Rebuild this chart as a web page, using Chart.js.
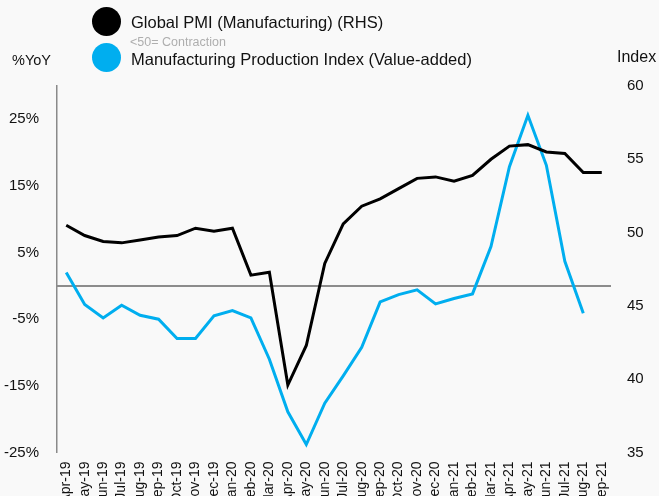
<!DOCTYPE html>
<html><head><meta charset="utf-8">
<script src="https://cdn.jsdelivr.net/npm/chart.js@4.4.1/dist/chart.umd.min.js"></script>
<style>
html,body{margin:0;padding:0;background:#f9f9f9;overflow:hidden;}
#wrap{position:relative;width:659px;height:496px;overflow:hidden;}
#c{position:absolute;left:0;top:0;}
.t{position:absolute;font-family:"Liberation Sans",Arial,sans-serif;color:#111;white-space:nowrap;line-height:1;}
.dot{position:absolute;width:29px;height:29px;border-radius:50%;}
</style></head><body>
<div id="wrap">
<canvas id="c" width="659" height="496"></canvas>
<div class="dot" style="left:92px;top:7px;background:#000"></div>
<div class="dot" style="left:92px;top:43px;background:#00AEEF"></div>
<div class="t" style="left:131px;top:14px;font-size:16.5px">Global PMI (Manufacturing) (RHS)</div>
<div class="t" style="left:130px;top:35.5px;font-size:12.5px;color:#aeaeae">&lt;50= Contraction</div>
<div class="t" style="left:131px;top:51px;font-size:16.5px">Manufacturing Production Index (Value-added)</div>
<div class="t" style="left:12px;top:52.5px;font-size:14.5px">%YoY</div>
<div class="t" style="left:617px;top:49px;font-size:16px">Index</div>
</div>
<script>
const labels = ['Apr-19','May-19','Jun-19','Jul-19','Aug-19','Sep-19','Oct-19','Nov-19','Dec-19',
  'Jan-20','Feb-20','Mar-20','Apr-20','May-20','Jun-20','Jul-20','Aug-20','Sep-20','Oct-20','Nov-20','Dec-20',
  'Jan-21','Feb-21','Mar-21','Apr-21','May-21','Jun-21','Jul-21','Aug-21','Sep-21'];
const globalPMI = [50.5, 49.8, 49.4, 49.3, 49.5, 49.7, 49.8, 50.3, 50.1, 50.3, 47.1, 47.3, 39.6, 42.3, 47.9,
  50.6, 51.8, 52.3, 53.0, 53.7, 53.8, 53.5, 53.9, 55.0, 55.9, 56.0, 55.5, 55.4, 54.1, 54.1];
const mfgProduction = [2.0, -2.8, -4.8, -2.9, -4.4, -5.0, -7.9, -7.9, -4.5, -3.7, -4.8, -11.0, -18.9, -23.8, -17.6,
  -13.5, -9.2, -2.4, -1.3, -0.6, -2.7, -1.9, -1.2, 5.9, 17.9, 25.6, 18.1, 3.7, -4.1, null];
const leftTicks = [-25, -15, -5, 5, 15, 25];
const rightTicks = [35, 40, 45, 50, 55, 60];

const FONT = '"Liberation Sans", Arial, sans-serif';

const zeroLine = {
  id: 'zeroLine',
  beforeDatasetsDraw(chart) {
    const {ctx, chartArea: a, scales: {y}} = chart;
    const py = y.getPixelForValue(0);
    ctx.save();
    ctx.strokeStyle = '#8c8c8c';
    ctx.lineWidth = 2;
    ctx.beginPath();
    ctx.moveTo(a.left, py);
    ctx.lineTo(a.right, py);
    ctx.stroke();
    ctx.restore();
  }
};

new Chart(document.getElementById('c'), {
  type: 'line',
  data: {
    labels: labels,
    datasets: [
      {label: 'Global PMI (Manufacturing) (RHS)', data: globalPMI, yAxisID: 'y1',
        borderColor: '#000000', backgroundColor: '#000000', borderWidth: 3},
      {label: 'Manufacturing Production Index (Value-added)', data: mfgProduction, yAxisID: 'y',
        borderColor: '#00AEEF', backgroundColor: '#00AEEF', borderWidth: 3}
    ]
  },
  options: {
    responsive: false,
    animation: false,
    layout: {padding: {top: 86, left: 0, right: 0, bottom: 0}},
    plugins: {legend: {display: false}, tooltip: {enabled: false}},
    elements: {point: {radius: 0}, line: {tension: 0, borderJoinStyle: 'miter'}},
    scales: {
      x: {
        type: 'category', offset: true,
        grid: {display: false, drawTicks: false}, border: {display: false},
        ticks: {autoSkip: false, maxRotation: 90, minRotation: 90, padding: 9, color: '#111',
          font: {family: FONT, size: 14}},
        afterFit(s) { s.height = 43.5; }
      },
      y: {
        position: 'left', min: -25, max: 30,
        grid: {display: false, drawTicks: false},
        border: {display: true, color: '#8a8a8a', width: 1.5},
        afterBuildTicks(s) { s.ticks = leftTicks.map(v => ({value: v})); },
        ticks: {padding: 18, color: '#111', font: {family: FONT, size: 15}, callback: v => v + '%'},
        afterFit(s) { s.width = 57; }
      },
      y1: {
        position: 'right', min: 35, max: 60,
        grid: {display: false, drawTicks: false}, border: {display: false},
        afterBuildTicks(s) { s.ticks = rightTicks.map(v => ({value: v})); },
        ticks: {padding: 16, color: '#111', font: {family: FONT, size: 15}},
        afterFit(s) { s.width = 48; }
      }
    }
  },
  plugins: [zeroLine]
});
</script>
</body></html>
